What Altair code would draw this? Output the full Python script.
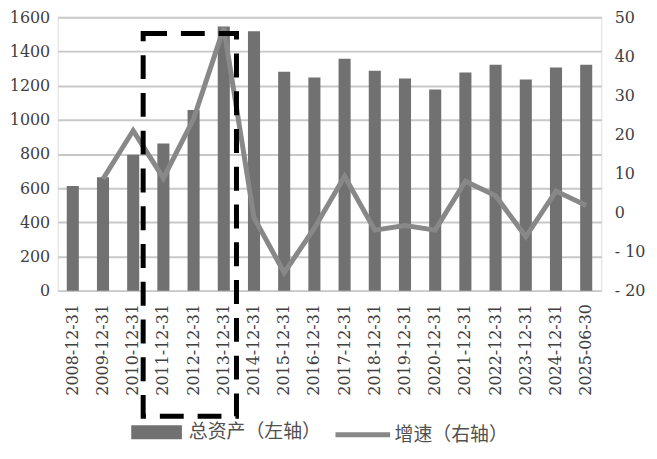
import altair as alt
import pandas as pd

dates = ["2008-12-31", "2009-12-31", "2010-12-31", "2011-12-31", "2012-12-31",
         "2013-12-31", "2014-12-31", "2015-12-31", "2016-12-31", "2017-12-31",
         "2018-12-31", "2019-12-31", "2020-12-31", "2021-12-31", "2022-12-31",
         "2023-12-31", "2024-12-31", "2025-06-30"]
assets = [612, 664, 795, 862, 1057, 1546, 1519, 1282, 1248, 1358,
          1288, 1242, 1178, 1277, 1323, 1236, 1306, 1323]
growth = [None, 8.6, 21.0, 8.8, 24.0, 47.3, -1.3, -15.4, -4.0, 9.3,
          -4.5, -3.3, -4.5, 8.0, 4.3, -6.2, 5.5, 1.8]

asset_name = "总资产（左轴）"
growth_name = "增速（右轴）"

# highlight box, in category-index units (x) and left-axis units (y)
box_x = [2.33]
box_x2 = [5.42]
box_y = [1505]
box_y2 = [-735]

W, H = 547, 275
SERIF = "DejaVu Serif"
CJK = "Noto Sans CJK SC"

df = pd.DataFrame({"date": dates, "assets": assets, "growth": growth})
df["s1"] = asset_name
df["s2"] = growth_name
box_df = pd.DataFrame({"x": box_x, "x2": box_x2, "y": box_y, "y2": box_y2})

base = alt.Chart(df)

bars = base.mark_bar(color="#717171").encode(
    x=alt.X("date:N", sort=dates, title=None,
            scale=alt.Scale(domain=dates, paddingInner=0.6, paddingOuter=0.3),
            axis=alt.Axis(labelAngle=270, labelAlign="right", labelBaseline="middle",
                          labelFont=SERIF, labelFontSize=16, labelColor="#404040",
                          ticks=False, domain=False, labelPadding=13, grid=False)),
    y=alt.Y("assets:Q", title=None,
            scale=alt.Scale(domain=[0, 1600], nice=False),
            axis=alt.Axis(orient="left", values=list(range(0, 1601, 200)), format="d",
                          labelFont=SERIF, labelFontSize=16, labelColor="#404040",
                          ticks=False, domain=False, labelPadding=8,
                          grid=True, gridColor="#c8c8c8", gridWidth=2)),
    color=alt.Color("s1:N", title=None,
                    scale=alt.Scale(domain=[asset_name], range=["#717171"]),
                    legend=alt.Legend(orient="none", legendX=74, legendY=392,
                                      symbolType="M-1,-0.275L1,-0.275L1,0.275L-1,0.275Z",
                                      symbolSize=2601, symbolStrokeWidth=0,
                                      symbolOpacity=1,
                                      labelFont=CJK, labelFontSize=19, labelColor="#505050",
                                      labelOffset=7, padding=0)),
)

line = base.transform_filter("isValid(datum.growth)").mark_line(
    strokeWidth=5, color="#888888").encode(
    x=alt.X("date:N", sort=dates, scale=alt.Scale(domain=dates), axis=None),
    y=alt.Y("growth:Q", title=None,
            scale=alt.Scale(domain=[-20, 50], nice=False),
            axis=alt.Axis(orient="right", values=list(range(-20, 51, 10)),
                          labelExpr="datum.value < 0 ? '- ' + abs(datum.value) : datum.label",
                          labelFont=SERIF, labelFontSize=16, labelColor="#404040",
                          ticks=False, domain=False, labelPadding=13, grid=False)),
    color=alt.Color("s2:N", title=None,
                    scale=alt.Scale(domain=[growth_name], range=["#888888"]),
                    legend=alt.Legend(orient="none", legendX=277, legendY=390,
                                      symbolType="stroke", symbolSize=3025,
                                      symbolStrokeWidth=5, symbolStrokeColor="#888888",
                                      labelFont=CJK, labelFontSize=19, labelColor="#505050",
                                      labelOffset=2, padding=0)),
)

box = alt.Chart(box_df).mark_rect(
    fillOpacity=0, stroke="black", strokeWidth=5, strokeDash=[24, 14]).encode(
    x=alt.X("x:Q", scale=alt.Scale(domain=[-0.5, 17.5], nice=False, zero=False), axis=None),
    x2="x2:Q",
    y=alt.Y("y:Q", scale=alt.Scale(domain=[0, 1600], nice=False), axis=None),
    y2="y2:Q",
)

chart = alt.layer(bars, line, box).resolve_scale(
    x="independent", y="independent", color="independent"
).resolve_legend(color="independent").properties(
    width=W, height=H,
    autosize=alt.AutoSizeParams(type="none"),
    padding={"left": 50, "top": 8, "right": 48, "bottom": 164},
).configure_view(stroke=None).configure(background="white")

chart.save("out.html", embed_options={"renderer": "svg", "actions": False})
